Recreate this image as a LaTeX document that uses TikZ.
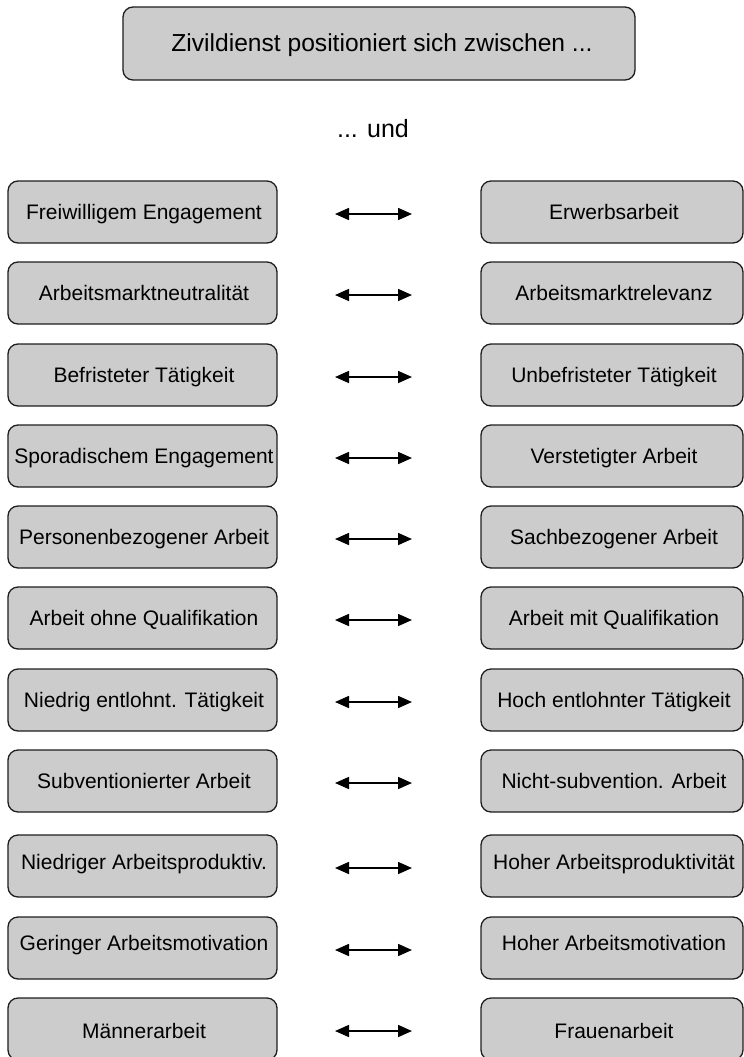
\documentclass[tikz,border=0pt]{standalone}
\usepackage{fontspec}
\setmainfont{Liberation Sans}
\usetikzlibrary{arrows.meta}
\definecolor{boxgray}{HTML}{CCCCCC}
\definecolor{edgeline}{HTML}{1E1E1E}
\begin{document}
\begin{tikzpicture}[x=1bp,y=-1bp,
  roundbox/.style={draw=edgeline, line width=1.3bp, fill=boxgray,
    rounded corners=10bp, inner sep=0pt},
  pairbox/.style={roundbox, minimum width=269bp, minimum height=62bp},
  rightbox/.style={roundbox, minimum width=262bp, minimum height=62bp},
  pairtext/.style={anchor=base, inner sep=0pt,
    font=\fontsize{21bp}{25bp}\selectfont},
  twoway/.style={line width=1.6bp, {Triangle[length=14bp,width=12bp]}-{Triangle[length=14bp,width=12bp]}}]
\useasboundingbox (0,0) rectangle (744,1057);

% heading box and its continuation
\node[roundbox, minimum width=512bp, minimum height=73bp] (head) at (379,43.5) {};
\node[pairtext, font=\fontsize{24.6bp}{29bp}\selectfont] (headtext) at (382,51) {Zivildienst positioniert sich zwischen ...};
\node[pairtext, font=\fontsize{25bp}{29bp}\selectfont] (und) at (373,137) {... und};

% the eleven pairs of opposite poles
\foreach \i/\c/\d/\lt/\rt in {
  1/212/7/{Freiwilligem Engagement}/{Erwerbsarbeit},
  2/293/7/{Arbeitsmarktneutralität}/{Arbeitsmarktrelevanz},
  3/375/7/{Befristeter Tätigkeit}/{Unbefristeter Tätigkeit},
  4/456/7/{Sporadischem Engagement}/{Verstetigter Arbeit},
  5/537/7/{Personenbezogener Arbeit}/{Sachbezogener Arbeit},
  6/618/7/{Arbeit ohne Qualifikation}/{Arbeit mit Qualifikation},
  7/700/7/{Niedrig entlohnt. Tätigkeit}/{Hoch entlohnter Tätigkeit},
  8/781/7/{Subventionierter Arbeit}/{Nicht-subvention. Arbeit},
  9/866/3/{Niedriger Arbeitsproduktiv.}/{Hoher Arbeitsproduktivität},
  10/948/2/{Geringer Arbeitsmotivation}/{Hoher Arbeitsmotivation},
  11/1029/9/{Männerarbeit}/{Frauenarbeit}}{
  \node[pairbox] (l\i) at (142.5,\c) {};
  \node[rightbox] (r\i) at (612,\c) {};
  \node[pairtext] (lt\i) at (144,{\c+\d}) {\lt};
  \node[pairtext] (rt\i) at (614,{\c+\d}) {\rt};
  \coordinate (a\i) at (335,{\c+2});
  \coordinate (b\i) at (412,{\c+2});
  \draw[twoway] (a\i) -- (b\i);
}
\end{tikzpicture}
\end{document}
